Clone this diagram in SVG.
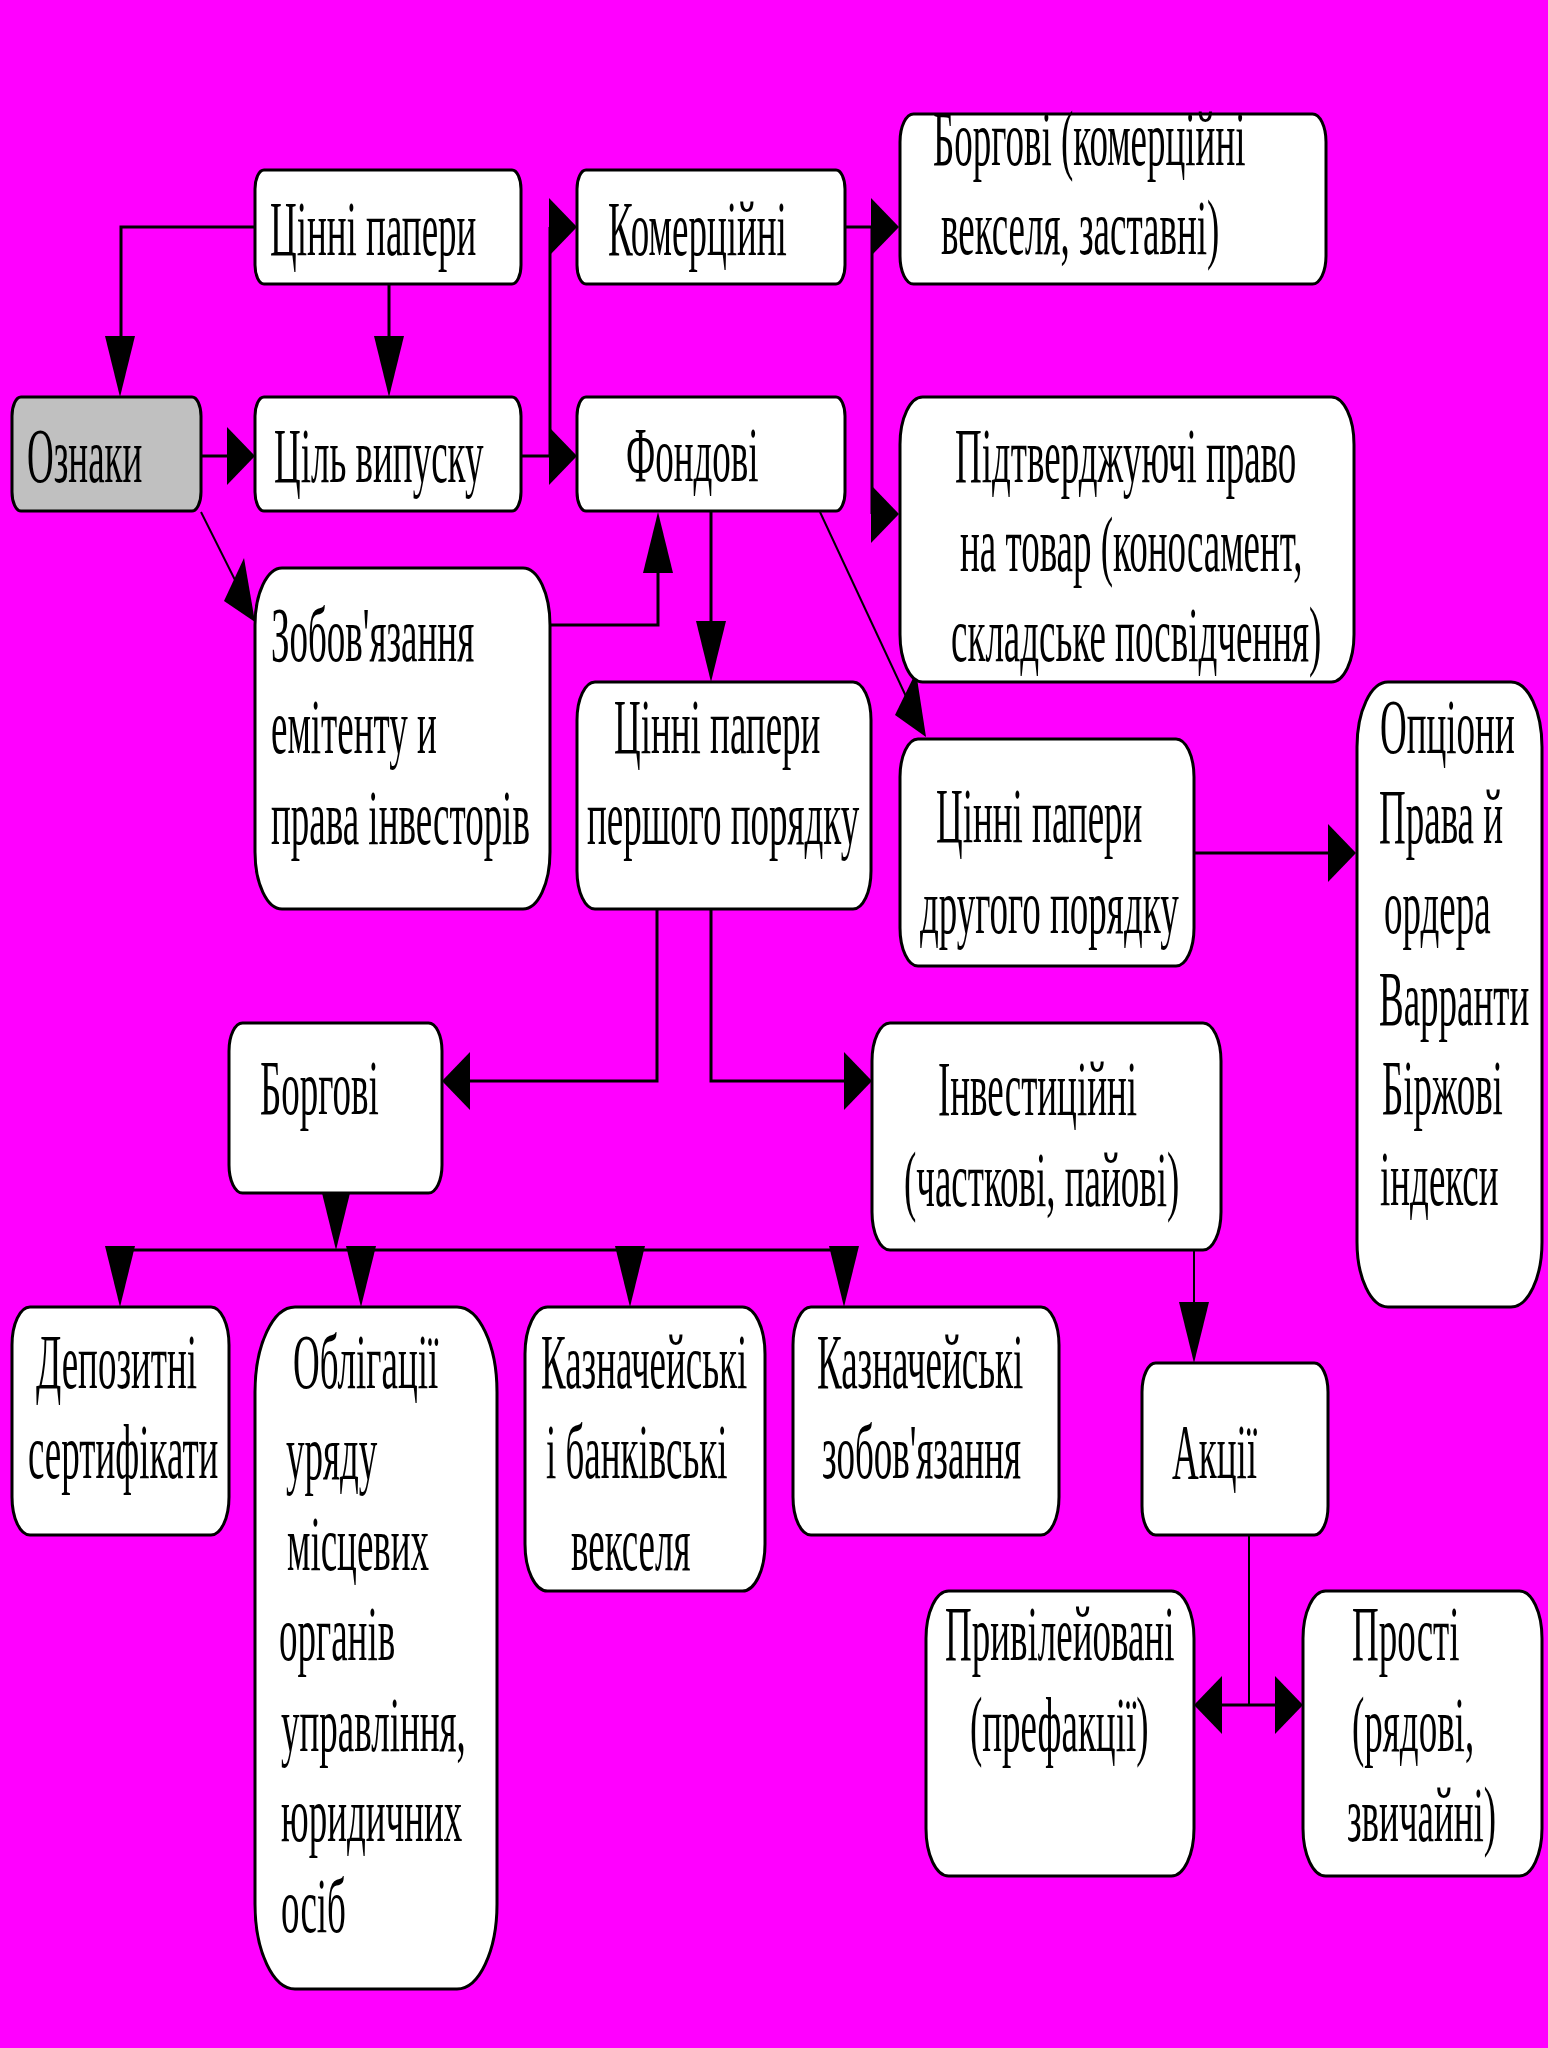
<svg xmlns="http://www.w3.org/2000/svg" width="1548" height="2048" viewBox="0 0 1548 2048">
<style>
.bx{fill:#fff;stroke:#000;stroke-width:3}
.gr{fill:#c0c0c0}
.t{font-family:"Liberation Serif","Times New Roman",serif;font-size:37px;fill:#000}
.ln{fill:none;stroke:#000;stroke-width:3}
.th{fill:none;stroke:#000;stroke-width:2}
.ah{fill:#000;stroke:none}
</style>
<rect x="0" y="0" width="1548" height="2048" fill="#ff00ff"/>
<g id="connectors">
<polyline class="ln" points="255,227 121,227 121,340"/>
<line class="ln" x1="389" y1="284" x2="389" y2="340"/>
<line class="ln" x1="201" y1="456" x2="230" y2="456"/>
<line class="ln" x1="521" y1="456" x2="552" y2="456"/>
<line class="ln" x1="550" y1="227" x2="550" y2="456"/>
<line class="ln" x1="550" y1="227" x2="552" y2="227"/>
<line class="ln" x1="845" y1="227" x2="874" y2="227"/>
<line class="ln" x1="872" y1="227" x2="872" y2="514"/>
<polyline class="ln" points="550,625 658,625 658,570"/>
<line class="ln" x1="711" y1="511" x2="711" y2="625"/>
<line class="th" x1="820" y1="512" x2="910" y2="705"/>
<line class="th" x1="201" y1="512" x2="240" y2="590"/>
<line class="ln" x1="1194" y1="853" x2="1330" y2="853"/>
<polyline class="ln" points="657,909 657,1081 468,1081"/>
<polyline class="ln" points="711,909 711,1081 846,1081"/>
<line class="ln" x1="120" y1="1250" x2="844" y2="1250"/>
<line class="th" x1="1194" y1="1250" x2="1194" y2="1305"/>
<line class="th" x1="1249" y1="1535" x2="1249" y2="1705"/>
<line class="ln" x1="1220" y1="1705" x2="1278" y2="1705"/>
<polygon class="ah" points="105,336 120,397 135,336"/>
<polygon class="ah" points="374,336 389,397 404,336"/>
<polygon class="ah" points="227,427 255,456 227,485"/>
<polygon class="ah" points="549,427 577,456 549,485"/>
<polygon class="ah" points="549,198 577,227 549,256"/>
<polygon class="ah" points="871,198 899,227 871,256"/>
<polygon class="ah" points="871,485 899,514 871,543"/>
<polygon class="ah" points="643,573 658,512 673,573"/>
<polygon class="ah" points="696,621 711,682 726,621"/>
<polygon class="ah" points="895,715 926,737 916,672"/>
<polygon class="ah" points="224,601 255,622 244,558"/>
<polygon class="ah" points="1328,824 1356,853 1328,882"/>
<polygon class="ah" points="470,1052 442,1081 470,1110"/>
<polygon class="ah" points="844,1052 872,1081 844,1110"/>
<polygon class="ah" points="321,1189 336,1250 351,1189"/>
<polygon class="ah" points="105,1246 120,1307 135,1246"/>
<polygon class="ah" points="346,1246 361,1307 376,1246"/>
<polygon class="ah" points="615,1246 630,1307 645,1246"/>
<polygon class="ah" points="829,1246 844,1307 859,1246"/>
<polygon class="ah" points="1179,1302 1194,1363 1209,1302"/>
<polygon class="ah" points="1222,1676 1194,1705 1222,1734"/>
<polygon class="ah" points="1275,1676 1303,1705 1275,1734"/>
</g>
<g id="n-cinni">
<rect class="bx" x="255" y="170" width="266" height="114" rx="9" ry="19"/>
<text class="t" transform="translate(270,255) scale(1,2.1)">Цінні папери</text>
</g>
<g id="n-komerc">
<rect class="bx" x="577" y="170" width="268" height="114" rx="9" ry="19"/>
<text class="t" transform="translate(608,255) scale(1,2.1)">Комерційні</text>
</g>
<g id="n-borg-kom">
<rect class="bx" x="900" y="114" width="426" height="170" rx="13.5" ry="28"/>
<text class="t" transform="translate(933,165) scale(1,2.1)">Боргові (комерційні</text>
<text class="t" transform="translate(941,254) scale(1,2.1)">векселя, заставні)</text>
</g>
<g id="n-oznaky">
<rect class="bx gr" x="12" y="397" width="189" height="114" rx="9" ry="19"/>
<text class="t" transform="translate(27,482) scale(1,2.1)">Ознаки</text>
</g>
<g id="n-cil">
<rect class="bx" x="255" y="397" width="266" height="114" rx="9" ry="19"/>
<text class="t" transform="translate(274,482) scale(1,2.1)">Ціль випуску</text>
</g>
<g id="n-fond">
<rect class="bx" x="577" y="397" width="268" height="114" rx="9" ry="19"/>
<text class="t" transform="translate(626,481) scale(1,2.1)">Фондові</text>
</g>
<g id="n-pidtv">
<rect class="bx" x="900" y="397" width="454" height="285" rx="22.6" ry="47.5"/>
<text class="t" transform="translate(955,482) scale(1,2.1)">Підтверджуючі право</text>
<text class="t" transform="translate(960,571) scale(1,2.1)">на товар (коносамент,</text>
<text class="t" transform="translate(951,661) scale(1,2.1)">складське посвідчення)</text>
</g>
<g id="n-zobov">
<rect class="bx" x="255" y="568" width="295" height="341" rx="27" ry="57"/>
<text class="t" transform="translate(271,661) scale(1,2.1)">Зобов'язання</text>
<text class="t" transform="translate(271,753) scale(1,2.1)">емітенту и</text>
<text class="t" transform="translate(271,844) scale(1,2.1)">права інвесторів</text>
</g>
<g id="n-pershoho">
<rect class="bx" x="577" y="682" width="294" height="227" rx="18" ry="38"/>
<text class="t" transform="translate(614,753) scale(1,2.1)">Цінні папери</text>
<text class="t" transform="translate(587,844) scale(1,2.1)">першого порядку</text>
</g>
<g id="n-druhoho">
<rect class="bx" x="900" y="739" width="294" height="227" rx="18" ry="38"/>
<text class="t" transform="translate(936,842) scale(1,2.1)">Цінні папери</text>
<text class="t" transform="translate(920,933) scale(1,2.1)">другого порядку</text>
</g>
<g id="n-opciony">
<rect class="bx" x="1357" y="682" width="185" height="625" rx="31" ry="65"/>
<text class="t" transform="translate(1380,753) scale(1,2.1)">Опціони</text>
<text class="t" transform="translate(1379,843) scale(1,2.1)">Права й</text>
<text class="t" transform="translate(1384,933) scale(1,2.1)">ордера</text>
<text class="t" transform="translate(1379,1025) scale(1,2.1)">Варранти</text>
<text class="t" transform="translate(1382,1114) scale(1,2.1)">Біржові</text>
<text class="t" transform="translate(1380,1205) scale(1,2.1)">індекси</text>
</g>
<g id="n-borg">
<rect class="bx" x="229" y="1023" width="213" height="170" rx="13.5" ry="28"/>
<text class="t" transform="translate(260,1114) scale(1,2.1)">Боргові</text>
</g>
<g id="n-invest">
<rect class="bx" x="872" y="1023" width="349" height="227" rx="18" ry="38"/>
<text class="t" transform="translate(938,1115) scale(1,2.1)">Інвестиційні</text>
<text class="t" transform="translate(904,1206) scale(1,2.1)">(часткові, пайові)</text>
</g>
<g id="n-depoz">
<rect class="bx" x="12" y="1307" width="217" height="228" rx="18" ry="38"/>
<text class="t" transform="translate(36,1388) scale(1,2.1)">Депозитні</text>
<text class="t" transform="translate(28,1478) scale(1,2.1)">сертифікати</text>
</g>
<g id="n-oblig">
<rect class="bx" x="255" y="1307" width="242" height="682" rx="40" ry="85"/>
<text class="t" transform="translate(293,1388) scale(1,2.1)">Облігації</text>
<text class="t" transform="translate(286,1479) scale(1,2.1)">уряду</text>
<text class="t" transform="translate(287,1570) scale(1,2.1)">місцевих</text>
<text class="t" transform="translate(279,1660) scale(1,2.1)">органів</text>
<text class="t" transform="translate(281,1751) scale(1,2.1)">управління,</text>
<text class="t" transform="translate(281,1841) scale(1,2.1)">юридичних</text>
<text class="t" transform="translate(281,1932) scale(1,2.1)">осіб</text>
</g>
<g id="n-kazn-bank">
<rect class="bx" x="525" y="1307" width="240" height="284" rx="22.5" ry="47"/>
<text class="t" transform="translate(541,1388) scale(1,2.1)">Казначейські</text>
<text class="t" transform="translate(546,1478) scale(1,2.1)">і банківські</text>
<text class="t" transform="translate(571,1570) scale(1,2.1)">векселя</text>
</g>
<g id="n-kazn-zob">
<rect class="bx" x="793" y="1307" width="266" height="228" rx="18" ry="38"/>
<text class="t" transform="translate(817,1388) scale(1,2.1)">Казначейські</text>
<text class="t" transform="translate(822,1478) scale(1,2.1)">зобов'язання</text>
</g>
<g id="n-akcii">
<rect class="bx" x="1142" y="1363" width="186" height="172" rx="13.7" ry="29"/>
<text class="t" transform="translate(1172,1478) scale(1,2.1)">Акції</text>
</g>
<g id="n-pryvil">
<rect class="bx" x="926" y="1591" width="268" height="285" rx="22.6" ry="47.5"/>
<text class="t" transform="translate(945,1660) scale(1,2.1)">Привілейовані</text>
<text class="t" transform="translate(970,1751) scale(1,2.1)">(префакції)</text>
</g>
<g id="n-prosti">
<rect class="bx" x="1303" y="1591" width="239" height="285" rx="22.6" ry="47.5"/>
<text class="t" transform="translate(1352,1660) scale(1,2.1)">Прості</text>
<text class="t" transform="translate(1352,1751) scale(1,2.1)">(рядові,</text>
<text class="t" transform="translate(1347,1841) scale(1,2.1)">звичайні)</text>
</g>
</svg>
